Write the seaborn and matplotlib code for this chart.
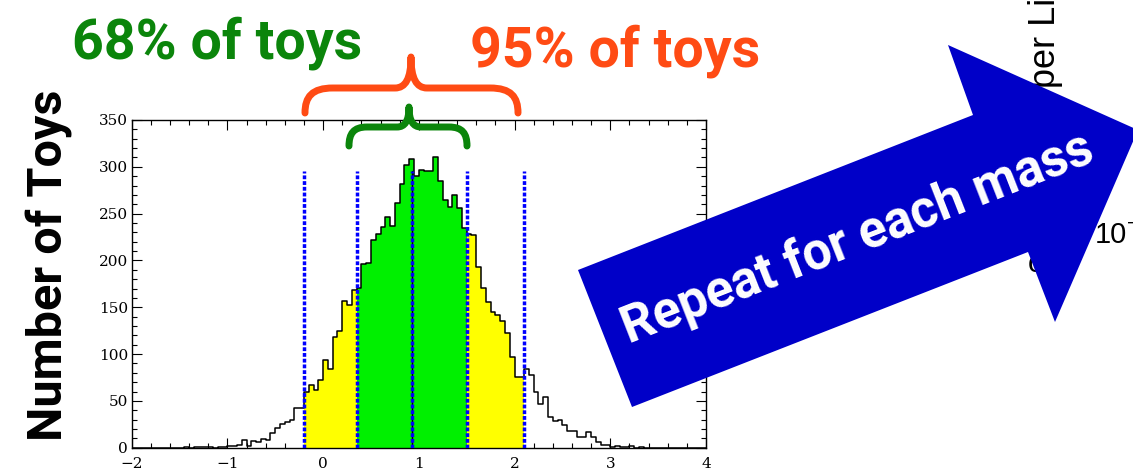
import numpy as np
import pandas as pd
import matplotlib
matplotlib.use("Agg")
import matplotlib.pyplot as plt
import seaborn as sns
from matplotlib.path import Path
from matplotlib.patches import PathPatch, Polygon
from matplotlib.ticker import MultipleLocator

# ---- toy distribution: 0.05-wide bins from -2 to 4 ----
bin_width = 0.05
x_min, x_max = -2.0, 4.0

counts_tail_low = [0, 0, 0, 0, 0, 0, 0, 0, 0, 0, 0, 1, 0, 1, 1, 1, 1, 0, 1, 1,
                   2, 2, 3, 8, 2, 7, 6, 9, 8, 16, 21, 25, 27, 30, 42, 42]
counts_yellow_low = [59, 67, 62, 72, 94, 84, 118, 125, 157, 152, 168]
counts_green = [171, 196, 197, 222, 228, 236, 246, 237, 261, 282, 302, 308,
                290, 297, 296, 295, 310, 285, 265, 257, 270, 256, 235]
counts_yellow_high = [228, 227, 193, 171, 156, 145, 142, 135, 122, 97, 76, 76]
counts_tail_high = [84, 78, 60, 47, 54, 33, 28, 30, 24, 18, 18, 11, 11, 17, 11,
                    6, 3, 3, 1, 2, 1, 1, 2, 0, 1, 0, 0, 0, 0, 0, 0, 0, 0, 0, 0,
                    0, 0, 0]

# quantile boundaries of the toy distribution
band95 = (-0.2, 2.1)
band68 = (0.35, 1.5)
median = 0.93
line_top = 295

x_ticks = [-2, -1, 0, 1, 2, 3, 4]
y_ticks = [0, 50, 100, 150, 200, 250, 300, 350]

counts = np.array(counts_tail_low + counts_yellow_low + counts_green
                  + counts_yellow_high + counts_tail_high, dtype=float)
edges = x_min + bin_width * np.arange(len(counts) + 1)
centers = edges[:-1] + bin_width / 2
df = pd.DataFrame({"mu": centers, "toys": counts})

sns.set_theme(style="ticks")
plt.rcParams["font.family"] = ["DejaVu Sans"]

W, H = 1133, 470
fig = plt.figure(figsize=(W / 100, H / 100), dpi=100)
fig.patch.set_facecolor("white")


def fx(px):
    return px / W


def fy(py):
    return 1 - py / H


ax = fig.add_axes([fx(131.7), fy(447.7), fx(706) - fx(131.7), fy(120) - fy(447.7)])
ax.set_facecolor("white")

# coloured quantile bands
for lo, hi, colour in [(band95[0], band68[0], "#ffff00"),
                       (band68[0], band68[1], "#00f000"),
                       (band68[1], band95[1], "#ffff00")]:
    sub = df[(df.mu > lo) & (df.mu < hi)]
    sub_edges = [float(e) for e in edges if lo - 1e-9 <= e <= hi + 1e-9]
    sns.histplot(data=sub, x="mu", weights="toys", bins=sub_edges,
                 element="step", fill=True, color=colour, alpha=1,
                 linewidth=0, ax=ax)

# histogram outline
sns.histplot(data=df, x="mu", weights="toys", bins=[float(e) for e in edges],
             element="step", fill=False, color="black", linewidth=1.1, ax=ax)

# quantile markers
ax.plot([median, median], [0, line_top], color="black", lw=1.0, zorder=4)
for xv in [band95[0], band68[0], median, band68[1], band95[1]]:
    ax.plot([xv, xv], [0, line_top], color="#0000ff", lw=2.5,
            dashes=(1.1, 0.55), zorder=5, solid_capstyle="butt")

ax.set_xlim(x_min, x_max)
ax.set_ylim(0, 350)
ax.set_xticks(x_ticks)
ax.set_yticks(y_ticks)
ax.xaxis.set_minor_locator(MultipleLocator(0.2))
ax.yaxis.set_minor_locator(MultipleLocator(10))
ax.set_xlabel("")
ax.set_ylabel("")
ax.tick_params(which="both", direction="in", top=True, right=True,
               bottom=True, left=True, colors="black",
               labelfontfamily="DejaVu Serif", labelsize=11)
ax.tick_params(which="major", length=7, width=0.8)
ax.tick_params(which="minor", length=3.5, width=0.8)
ax.tick_params(axis="x", pad=6.5)
ax.tick_params(axis="y", pad=2.5)
for s in ax.spines.values():
    s.set_visible(True)
    s.set_color("black")
    s.set_linewidth(1.0)

green = "#0b850b"
orange = "#ff4b14"

# captions
fig.text(fx(50), fy(265), "Number of Toys", rotation=90, ha="center",
         va="center", fontsize=35, fontweight="bold", family="Roboto",
         color="black")
fig.text(fx(72), fy(58), "68% of toys", ha="left", va="baseline",
         fontsize=40, fontweight="bold", family="Roboto", color=green)
fig.text(fx(470), fy(66), "95% of toys", ha="left", va="baseline",
         fontsize=40, fontweight="bold", family="Roboto", color=orange)


def brace(x0, x1, xm, y_end, y_bar, y_tip, r, r2):
    pts = [
        (x0, y_end),
        (x0, y_bar + 0.35 * (y_end - y_bar)), (x0 + 0.25 * r, y_bar), (x0 + r, y_bar),
        (xm - r2, y_bar),
        (xm - 0.35 * r2, y_bar), (xm, y_bar - 0.3 * (y_bar - y_tip)), (xm, y_tip),
        (xm, y_bar - 0.3 * (y_bar - y_tip)), (xm + 0.35 * r2, y_bar), (xm + r2, y_bar),
        (x1 - r, y_bar),
        (x1 - 0.25 * r, y_bar), (x1, y_bar + 0.35 * (y_end - y_bar)), (x1, y_end),
    ]
    codes = ([Path.MOVETO] + [Path.CURVE4] * 3 + [Path.LINETO]
             + [Path.CURVE4] * 6 + [Path.LINETO] + [Path.CURVE4] * 3)
    return Path([(fx(a), fy(b)) for a, b in pts], codes)


fig.add_artist(PathPatch(brace(305, 518, 411, 113, 88, 57, 28, 16),
                         transform=fig.transFigure, fill=False,
                         edgecolor=orange, lw=5, capstyle="round",
                         joinstyle="round", zorder=6))
fig.add_artist(PathPatch(brace(349, 467, 409, 146, 127, 107, 18, 12),
                         transform=fig.transFigure, fill=False,
                         edgecolor=green, lw=5, capstyle="round",
                         joinstyle="round", zorder=6))

# neighbouring limit plot, mostly hidden behind the arrow
fig.text(fx(1055), fy(134), "Upper Limit", rotation=90, rotation_mode="anchor",
         ha="left", va="baseline", fontsize=26, family="Liberation Sans",
         color="black", zorder=3)
fig.text(fx(1095), fy(243), "10", ha="left", va="baseline", fontsize=21,
         family="Liberation Sans", color="black", zorder=3)
fig.text(fx(1127), fy(229), "\u2212", ha="left", va="baseline", fontsize=14,
         family="Liberation Sans", color="black", zorder=3)
fig.text(fx(1028), fy(272), "c", ha="left", va="baseline", fontsize=21,
         family="Liberation Sans", color="black", zorder=3)

# big arrow
arrow_pts = [(578, 270), (973, 115), (948, 45), (1138, 130), (1055, 322),
             (1028, 252), (632, 407)]
fig.add_artist(Polygon([(fx(a), fy(b)) for a, b in arrow_pts], closed=True,
                       transform=fig.transFigure, facecolor="#0000c8",
                       edgecolor="none", zorder=10))
fig.text(fx(858), fy(239), "Repeat for each mass", rotation=21.4,
         rotation_mode="anchor", ha="center", va="center", color="white",
         fontsize=37, fontweight="bold", family="Roboto", zorder=11)

fig.savefig("out.png", dpi=100)
